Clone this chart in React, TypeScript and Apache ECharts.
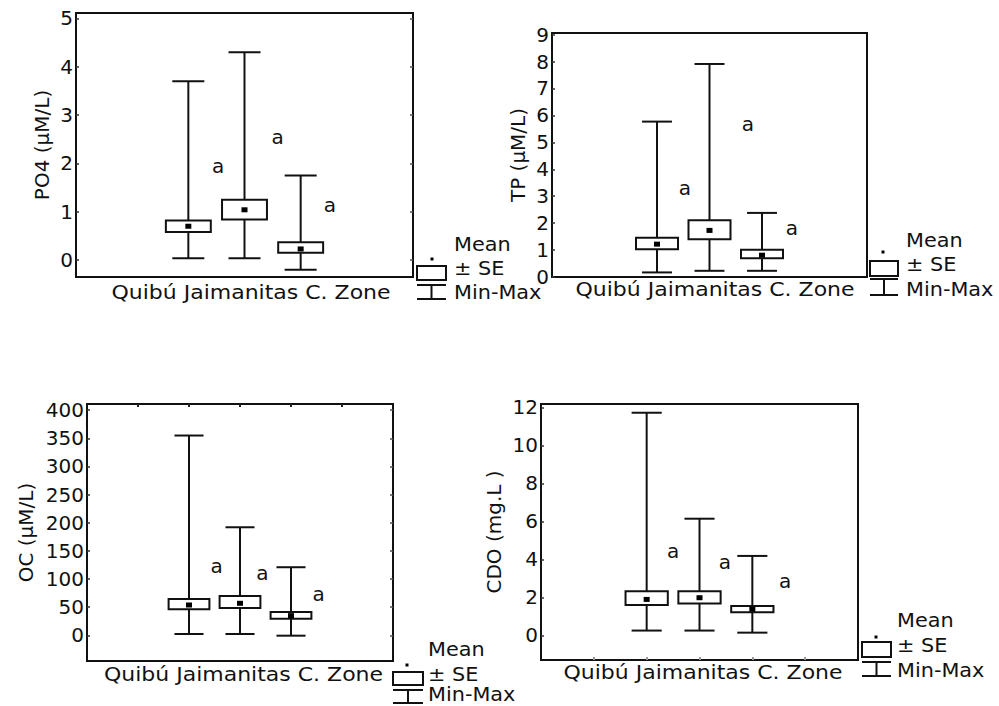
import React, { useEffect, useRef } from "react";
import * as echarts from "echarts";

const FONT = "DejaVu Sans";

// Categories and their positions on the 0..6 x scale
const categories = ["Quibú", "Jaimanitas", "C. Zone"];
const catPositions = [2, 3, 4];

// PO4 (µM/L)
const po4Max = [3.7, 4.3, 1.75];
const po4Upper = [0.82, 1.25, 0.37];
const po4Mean = [0.7, 1.04, 0.23];
const po4Lower = [0.58, 0.84, 0.15];
const po4Min = [0.04, 0.04, -0.2];
const po4LetterX = [2.53, 3.59, 4.52];
const po4LetterY = [1.94, 2.54, 1.13];
const po4Ticks = [0, 1, 2, 3, 4, 5];

// TP (µM/L)
const tpMax = [5.77, 7.91, 2.38];
const tpUpper = [1.46, 2.11, 1.01];
const tpMean = [1.22, 1.73, 0.81];
const tpLower = [1.03, 1.4, 0.7];
const tpMin = [0.17, 0.23, 0.23];
const tpLetterX = [2.53, 3.73, 4.57];
const tpLetterY = [3.32, 5.68, 1.83];
const tpTicks = [0, 1, 2, 3, 4, 5, 6, 7, 8, 9];

// OC (µM/L)
const ocMax = [355, 192, 121];
const ocUpper = [64.6, 69.9, 41.5];
const ocMean = [53.9, 56.9, 35];
const ocLower = [46.2, 48.6, 29.6];
const ocMin = [2.4, 2.4, -0.6];
const ocLetterX = [2.54, 3.44, 4.54];
const ocLetterY = [124, 111, 73];
const ocTicks = [0, 50, 100, 150, 200, 250, 300, 350, 400];

// CDO (mg.L )
const cdoMax = [11.72, 6.14, 4.18];
const cdoUpper = [2.32, 2.32, 1.54];
const cdoMean = [1.89, 1.98, 1.37];
const cdoLower = [1.6, 1.68, 1.21];
const cdoMin = [0.25, 0.25, 0.14];
const cdoLetterX = [2.5, 3.48, 4.62];
const cdoLetterY = [4.44, 3.88, 2.86];
const cdoTicks = [0, 2, 4, 6, 8, 10, 12];

const xTicks = [1, 2, 3, 4, 5];

type Panel = {
  name: string;
  min: number;
  max: number;
  ticks: number[];
  mx: number[];
  up: number[];
  mean: number[];
  lo: number[];
  mn: number[];
  lx: number[];
  ly: number[];
  grid: { left: number; top: number; width: number; height: number };
  nameGap: number;
  rightTicks: boolean;
  topTicks: boolean;
  bottomTicks: boolean;
  xText: [number, number];
  legend: {
    bx: number; by: number; bw: number; bh: number;
    dot: [number, number];
    wTop: number; wBot: number;
    tx: number; ty: [number, number, number];
  };
};

const panels: Panel[] = [
  {
    name: "PO4 (µM/L)", min: -0.35, max: 5.11, ticks: po4Ticks,
    mx: po4Max, up: po4Upper, mean: po4Mean, lo: po4Lower, mn: po4Min,
    lx: po4LetterX, ly: po4LetterY,
    grid: { left: 76, top: 13, width: 337, height: 264 },
    nameGap: 24, rightTicks: true, topTicks: false, bottomTicks: false,
    xText: [251, 292],
    legend: { bx: 417, by: 266, bw: 29, bh: 14, dot: [432, 259], wTop: 285, wBot: 299, tx: 454, ty: [244.5, 268, 292.5] },
  },
  {
    name: "TP (µM/L)", min: 0, max: 9.06, ticks: tpTicks,
    mx: tpMax, up: tpUpper, mean: tpMean, lo: tpLower, mn: tpMin,
    lx: tpLetterX, ly: tpLetterY,
    grid: { left: 552, top: 33, width: 315, height: 244 },
    nameGap: 24, rightTicks: false, topTicks: false, bottomTicks: false,
    xText: [715, 289],
    legend: { bx: 870, by: 261, bw: 28, bh: 15, dot: [883, 252], wTop: 279, wBot: 295, tx: 906, ty: [240, 264.5, 289] },
  },
  {
    name: "OC (µM/L)", min: -45.6, max: 411, ticks: ocTicks,
    mx: ocMax, up: ocUpper, mean: ocMean, lo: ocLower, mn: ocMin,
    lx: ocLetterX, ly: ocLetterY,
    grid: { left: 87, top: 404, width: 306, height: 257 },
    nameGap: 51, rightTicks: true, topTicks: true, bottomTicks: false,
    xText: [243.5, 674],
    legend: { bx: 393, by: 672, bw: 30, bh: 13, dot: [407, 665], wTop: 690, wBot: 703, tx: 428, ty: [649.5, 674.5, 694] },
  },
  {
    name: "CDO (mg.L )", min: -1.3, max: 12.18, ticks: cdoTicks,
    mx: cdoMax, up: cdoUpper, mean: cdoMean, lo: cdoLower, mn: cdoMin,
    lx: cdoLetterX, ly: cdoLetterY,
    grid: { left: 541, top: 404, width: 317, height: 256 },
    nameGap: 37, rightTicks: false, topTicks: false, bottomTicks: true,
    xText: [703, 672],
    legend: { bx: 862, by: 642, bw: 29, bh: 15, dot: [876, 637], wTop: 662, wBot: 676, tx: 897, ty: [620.5, 645.5, 670] },
  },
];

function buildOption() {
  const grid: any[] = [];
  const xAxis: any[] = [];
  const yAxis: any[] = [];
  const series: any[] = [];
  const graphic: any[] = [];

  panels.forEach((p, i) => {
    grid.push({
      ...p.grid,
      show: true,
      borderColor: "#111",
      borderWidth: 2,
      backgroundColor: "transparent",
    });
    xAxis.push({
      gridIndex: i,
      type: "value",
      min: 0,
      max: 6,
      interval: 1,
      position: p.topTicks ? "top" : "bottom",
      axisLine: { show: false, onZero: false },
      axisLabel: { show: false },
      splitLine: { show: false },
      axisTick: {
        show: p.topTicks || p.bottomTicks,
        inside: true,
        length: 3,
        customValues: xTicks,
        lineStyle: { color: p.bottomTicks ? "#999" : "#222", width: 2 },
      },
    });
    const yIdx = yAxis.length;
    yAxis.push({
      gridIndex: i,
      type: "value",
      min: p.min,
      max: p.max,
      position: "left",
      axisLine: { show: false, onZero: false },
      splitLine: { show: false },
      axisTick: {
        show: true,
        inside: true,
        length: 3,
        customValues: p.ticks,
        lineStyle: { color: "#333", width: 1.5 },
      },
      axisLabel: {
        customValues: p.ticks,
        fontSize: 20,
        fontFamily: FONT,
        color: "#111",
        margin: 3,
      },
      name: p.name,
      nameLocation: "middle",
      nameGap: p.nameGap,
      nameRotate: 90,
      nameTextStyle: { fontSize: 20, fontFamily: FONT, color: "#111" },
    });
    if (p.rightTicks) {
      yAxis.push({
        gridIndex: i,
        type: "value",
        min: p.min,
        max: p.max,
        position: "right",
        axisLine: { show: false, onZero: false },
        splitLine: { show: false },
        axisLabel: { show: false },
        axisTick: {
          show: true,
          inside: true,
          length: 3,
          customValues: p.ticks,
          lineStyle: { color: "#555", width: 1.5 },
        },
      });
    }

    const data = catPositions.map((x, k) => [x, p.mn[k], p.lo[k], p.mean[k], p.up[k], p.mx[k]]);
    series.push({
      type: "custom",
      xAxisIndex: i,
      yAxisIndex: yIdx,
      data,
      encode: { x: 0, y: [1, 2, 3, 4, 5] },
      renderItem: (_params: any, api: any) => {
        const x = api.value(0);
        const pMin = api.coord([x, api.value(1)]);
        const pLo = api.coord([x, api.value(2)]);
        const pMean = api.coord([x, api.value(3)]);
        const pHi = api.coord([x, api.value(4)]);
        const pMax = api.coord([x, api.value(5)]);
        const unit = api.size([1, 0])[0];
        const bw = unit * 0.8;
        const cw = unit * 0.57;
        const ls = { stroke: "#111", lineWidth: 2 };
        return {
          type: "group",
          children: [
            { type: "line", shape: { x1: pMax[0], y1: pMax[1], x2: pMin[0], y2: pMin[1] }, style: ls },
            { type: "line", shape: { x1: pMax[0] - cw / 2, y1: pMax[1], x2: pMax[0] + cw / 2, y2: pMax[1] }, style: ls },
            { type: "line", shape: { x1: pMin[0] - cw / 2, y1: pMin[1], x2: pMin[0] + cw / 2, y2: pMin[1] }, style: ls },
            {
              type: "rect",
              shape: { x: pHi[0] - bw / 2, y: pHi[1], width: bw, height: pLo[1] - pHi[1] },
              style: { fill: "#fff", stroke: "#111", lineWidth: 2 },
            },
            {
              type: "rect",
              shape: { x: pMean[0] - 3, y: pMean[1] - 2.5, width: 6, height: 5 },
              style: { fill: "#000" },
            },
          ],
        };
      },
    });

    const letters = p.lx.map((x, k) => [x, p.ly[k]]);
    series.push({
      type: "custom",
      xAxisIndex: i,
      yAxisIndex: yIdx,
      data: letters,
      encode: { x: 0, y: 1 },
      renderItem: (_params: any, api: any) => {
        const pt = api.coord([api.value(0), api.value(1)]);
        return {
          type: "text",
          x: pt[0],
          y: pt[1],
          style: {
            text: "a",
            fontSize: 20,
            fontFamily: FONT,
            fill: "#111",
            textAlign: "center",
            textVerticalAlign: "middle",
          },
        };
      },
    });

    // category text line under each plot
    graphic.push({
      type: "text",
      x: p.xText[0],
      y: p.xText[1],
      scaleX: 1.1,
      style: {
        text: categories.join(" "),
        fontSize: 20,
        fontFamily: FONT,
        fill: "#111",
        textAlign: "center",
        textVerticalAlign: "middle",
      },
    });

    // legend
    const L = p.legend;
    const cx = L.bx + L.bw / 2;
    graphic.push(
      { type: "rect", shape: { x: L.bx, y: L.by, width: L.bw, height: L.bh }, style: { fill: "#fff", stroke: "#111", lineWidth: 2 } },
      { type: "rect", shape: { x: L.dot[0] - 1.5, y: L.dot[1] - 1.5, width: 3, height: 3 }, style: { fill: "#000" } },
      { type: "line", shape: { x1: L.bx, y1: L.wTop, x2: L.bx + L.bw, y2: L.wTop }, style: { stroke: "#111", lineWidth: 2 } },
      { type: "line", shape: { x1: cx, y1: L.wTop, x2: cx, y2: L.wBot }, style: { stroke: "#111", lineWidth: 2 } },
      { type: "line", shape: { x1: L.bx, y1: L.wBot, x2: L.bx + L.bw, y2: L.wBot }, style: { stroke: "#111", lineWidth: 2 } }
    );
    ["Mean", "± SE", "Min-Max"].forEach((t, k) => {
      graphic.push({
        type: "text",
        x: L.tx,
        y: L.ty[k],
        scaleX: 1.04,
        style: {
          text: t,
          fontSize: 20,
          fontFamily: FONT,
          fill: "#111",
          textAlign: "left",
          textVerticalAlign: "middle",
        },
      });
    });
  });

  return {
    animation: false,
    backgroundColor: "#fff",
    grid,
    xAxis,
    yAxis,
    series,
    graphic,
  };
}

export default function App() {
  const ref = useRef<HTMLDivElement | null>(null);
  useEffect(() => {
    if (!ref.current) return;
    const chart = echarts.init(ref.current, undefined, { renderer: "svg" });
    chart.setOption(buildOption() as any);
    return () => chart.dispose();
  }, []);
  return (
    <div
      ref={ref}
      style={{ position: "fixed", left: 0, top: 0, width: 999, height: 706, background: "#fff" }}
    />
  );
}
